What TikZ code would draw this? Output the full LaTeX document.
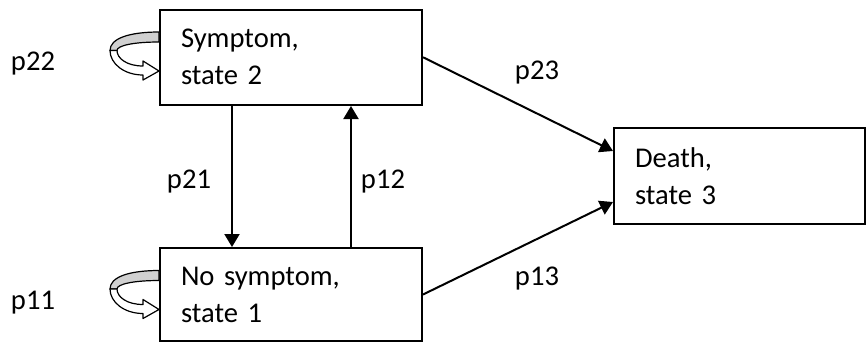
\documentclass[tikz,border=0pt]{standalone}
\usepackage{fontspec}
\setmainfont{Carlito}
\usepackage{xcolor}
\usepackage{tikz}
\usetikzlibrary{arrows.meta}
\definecolor{ink}{HTML}{000000}
\definecolor{bandgray}{HTML}{D0D0D0}
\tikzset{
  statebox/.style={draw=ink, line width=1pt, rectangle, align=left, text width=110pt,
    inner xsep=10.5pt, inner ysep=0pt, font=\fontsize{14.3}{18.5}\selectfont},
  arr/.style={draw=ink, line width=1pt, -{Triangle[length=6.5pt,width=7.5pt]}},
  loopline/.style={draw=ink, line width=0.6pt, line join=round},
  lab/.style={text=ink, font=\fontsize{14.3}{18.5}\selectfont},
  selfloop/.pic={
    \draw[loopline, fill=bandgray] (0,23.5) .. controls (-30,23.5) and (-49,30) .. (-49,42)
      -- (-42,42) .. controls (-42,37) and (-25,33.5) .. (0,33.5) -- cycle;
    \draw[loopline, fill=white] (-49,42) .. controls (-49,55) and (-35,66.5) .. (-16,66.5)
      -- (-16,71.5) -- (0,62.5) -- (-16,52.5) -- (-16,57.5)
      .. controls (-32,57.5) and (-42,50) .. (-42,42) -- cycle;
  },
}

\begin{document}
\begin{tikzpicture}[x=0.5pt, y=-0.5pt]
  \useasboundingbox (0,0) rectangle (867,344);
  % states
  \node[statebox, minimum height=47.75pt] (S2) at (291,57.25) {Symptom,\\ state 2};
  \node[statebox, minimum height=46.5pt] (S1) at (291,294.5) {No symptom,\\ state 1};
  \node[statebox, text width=104.5pt, minimum height=48pt] (S3) at (739.5,176) {Death,\\ state 3};
  % transitions
  \draw[arr] ([xshift=-29.5pt]S2.south) -- ([xshift=-29.5pt]S1.north);
  \draw[arr] ([xshift=30pt]S1.north) -- ([xshift=30pt]S2.south);
  \draw[arr] (S2.east) -- ([yshift=12.5pt]S3.west);
  \draw[arr] (S1.east) -- ([yshift=-13pt]S3.west);
  \pic at (S2.north west) {selfloop};
  \pic at (S1.north west) {selfloop};
  \foreach \t/\x/\y in {p22/33/64, p11/33/303, p21/189/182, p12/383/182, p23/537/73, p13/537/279}
    \node[lab] (\t) at (\x,\y) {\t};
\end{tikzpicture}
\end{document}
